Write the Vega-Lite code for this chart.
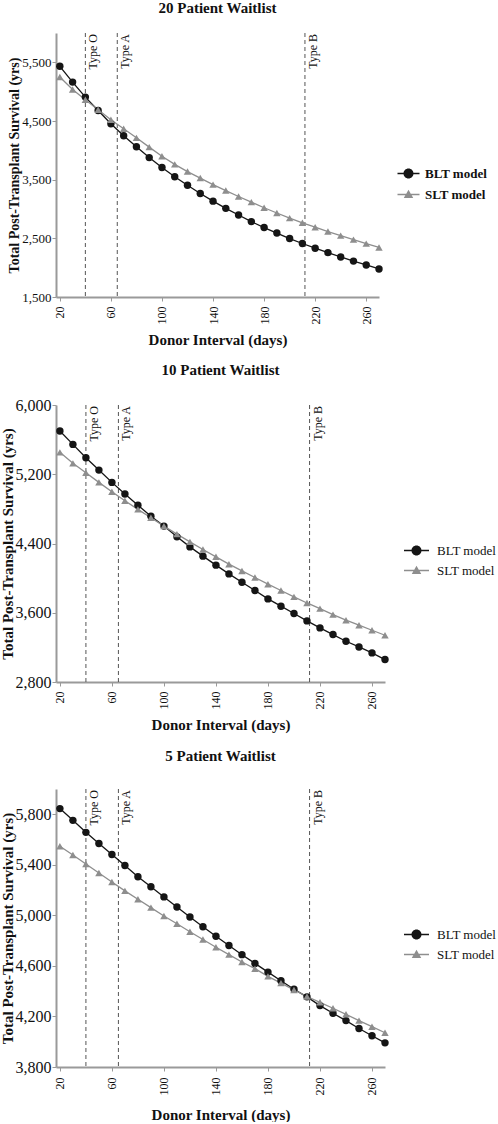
{
  "$schema": "https://vega.github.io/schema/vega-lite/v6.json",
  "padding": 0,
  "spacing": 16,
  "background": "white",
  "datasets": {
    "types": [
      {"day": 40, "label": "Type O"},
      {"day": 65, "label": "Type A"},
      {"day": 212, "label": "Type B"}
    ],
    "series": [
      {"waitlist": 20, "model": "BLT model", "day": 20, "survival": 5432},
      {"waitlist": 20, "model": "BLT model", "day": 30, "survival": 5163},
      {"waitlist": 20, "model": "BLT model", "day": 40, "survival": 4907},
      {"waitlist": 20, "model": "BLT model", "day": 50, "survival": 4680},
      {"waitlist": 20, "model": "BLT model", "day": 60, "survival": 4454},
      {"waitlist": 20, "model": "BLT model", "day": 70, "survival": 4248},
      {"waitlist": 20, "model": "BLT model", "day": 80, "survival": 4060},
      {"waitlist": 20, "model": "BLT model", "day": 90, "survival": 3876},
      {"waitlist": 20, "model": "BLT model", "day": 100, "survival": 3707},
      {"waitlist": 20, "model": "BLT model", "day": 110, "survival": 3550},
      {"waitlist": 20, "model": "BLT model", "day": 120, "survival": 3404},
      {"waitlist": 20, "model": "BLT model", "day": 130, "survival": 3264},
      {"waitlist": 20, "model": "BLT model", "day": 140, "survival": 3134},
      {"waitlist": 20, "model": "BLT model", "day": 150, "survival": 3011},
      {"waitlist": 20, "model": "BLT model", "day": 160, "survival": 2898},
      {"waitlist": 20, "model": "BLT model", "day": 170, "survival": 2785},
      {"waitlist": 20, "model": "BLT model", "day": 180, "survival": 2684},
      {"waitlist": 20, "model": "BLT model", "day": 190, "survival": 2590},
      {"waitlist": 20, "model": "BLT model", "day": 200, "survival": 2496},
      {"waitlist": 20, "model": "BLT model", "day": 210, "survival": 2412},
      {"waitlist": 20, "model": "BLT model", "day": 220, "survival": 2332},
      {"waitlist": 20, "model": "BLT model", "day": 230, "survival": 2256},
      {"waitlist": 20, "model": "BLT model", "day": 240, "survival": 2182},
      {"waitlist": 20, "model": "BLT model", "day": 250, "survival": 2112},
      {"waitlist": 20, "model": "BLT model", "day": 260, "survival": 2046},
      {"waitlist": 20, "model": "BLT model", "day": 270, "survival": 1978},
      {"waitlist": 20, "model": "SLT model", "day": 20, "survival": 5249},
      {"waitlist": 20, "model": "SLT model", "day": 30, "survival": 5038},
      {"waitlist": 20, "model": "SLT model", "day": 40, "survival": 4862},
      {"waitlist": 20, "model": "SLT model", "day": 50, "survival": 4692},
      {"waitlist": 20, "model": "SLT model", "day": 60, "survival": 4520},
      {"waitlist": 20, "model": "SLT model", "day": 70, "survival": 4367},
      {"waitlist": 20, "model": "SLT model", "day": 80, "survival": 4213},
      {"waitlist": 20, "model": "SLT model", "day": 90, "survival": 4055},
      {"waitlist": 20, "model": "SLT model", "day": 100, "survival": 3900},
      {"waitlist": 20, "model": "SLT model", "day": 110, "survival": 3760},
      {"waitlist": 20, "model": "SLT model", "day": 120, "survival": 3638},
      {"waitlist": 20, "model": "SLT model", "day": 130, "survival": 3527},
      {"waitlist": 20, "model": "SLT model", "day": 140, "survival": 3415},
      {"waitlist": 20, "model": "SLT model", "day": 150, "survival": 3314},
      {"waitlist": 20, "model": "SLT model", "day": 160, "survival": 3213},
      {"waitlist": 20, "model": "SLT model", "day": 170, "survival": 3117},
      {"waitlist": 20, "model": "SLT model", "day": 180, "survival": 3021},
      {"waitlist": 20, "model": "SLT model", "day": 190, "survival": 2932},
      {"waitlist": 20, "model": "SLT model", "day": 200, "survival": 2845},
      {"waitlist": 20, "model": "SLT model", "day": 210, "survival": 2765},
      {"waitlist": 20, "model": "SLT model", "day": 220, "survival": 2690},
      {"waitlist": 20, "model": "SLT model", "day": 230, "survival": 2616},
      {"waitlist": 20, "model": "SLT model", "day": 240, "survival": 2546},
      {"waitlist": 20, "model": "SLT model", "day": 250, "survival": 2478},
      {"waitlist": 20, "model": "SLT model", "day": 260, "survival": 2410},
      {"waitlist": 20, "model": "SLT model", "day": 270, "survival": 2345},
      {"waitlist": 10, "model": "BLT model", "day": 20, "survival": 5699},
      {"waitlist": 10, "model": "BLT model", "day": 30, "survival": 5545},
      {"waitlist": 10, "model": "BLT model", "day": 40, "survival": 5391},
      {"waitlist": 10, "model": "BLT model", "day": 50, "survival": 5248},
      {"waitlist": 10, "model": "BLT model", "day": 60, "survival": 5106},
      {"waitlist": 10, "model": "BLT model", "day": 70, "survival": 4971},
      {"waitlist": 10, "model": "BLT model", "day": 80, "survival": 4842},
      {"waitlist": 10, "model": "BLT model", "day": 90, "survival": 4716},
      {"waitlist": 10, "model": "BLT model", "day": 100, "survival": 4601},
      {"waitlist": 10, "model": "BLT model", "day": 110, "survival": 4477},
      {"waitlist": 10, "model": "BLT model", "day": 120, "survival": 4361},
      {"waitlist": 10, "model": "BLT model", "day": 130, "survival": 4254},
      {"waitlist": 10, "model": "BLT model", "day": 140, "survival": 4150},
      {"waitlist": 10, "model": "BLT model", "day": 150, "survival": 4049},
      {"waitlist": 10, "model": "BLT model", "day": 160, "survival": 3953},
      {"waitlist": 10, "model": "BLT model", "day": 170, "survival": 3857},
      {"waitlist": 10, "model": "BLT model", "day": 180, "survival": 3760},
      {"waitlist": 10, "model": "BLT model", "day": 190, "survival": 3676},
      {"waitlist": 10, "model": "BLT model", "day": 200, "survival": 3591},
      {"waitlist": 10, "model": "BLT model", "day": 210, "survival": 3506},
      {"waitlist": 10, "model": "BLT model", "day": 220, "survival": 3425},
      {"waitlist": 10, "model": "BLT model", "day": 230, "survival": 3348},
      {"waitlist": 10, "model": "BLT model", "day": 240, "survival": 3271},
      {"waitlist": 10, "model": "BLT model", "day": 250, "survival": 3205},
      {"waitlist": 10, "model": "BLT model", "day": 260, "survival": 3136},
      {"waitlist": 10, "model": "BLT model", "day": 270, "survival": 3059},
      {"waitlist": 10, "model": "SLT model", "day": 20, "survival": 5453},
      {"waitlist": 10, "model": "SLT model", "day": 30, "survival": 5326},
      {"waitlist": 10, "model": "SLT model", "day": 40, "survival": 5217},
      {"waitlist": 10, "model": "SLT model", "day": 50, "survival": 5106},
      {"waitlist": 10, "model": "SLT model", "day": 60, "survival": 4998},
      {"waitlist": 10, "model": "SLT model", "day": 70, "survival": 4893},
      {"waitlist": 10, "model": "SLT model", "day": 80, "survival": 4794},
      {"waitlist": 10, "model": "SLT model", "day": 90, "survival": 4697},
      {"waitlist": 10, "model": "SLT model", "day": 100, "survival": 4601},
      {"waitlist": 10, "model": "SLT model", "day": 110, "survival": 4508},
      {"waitlist": 10, "model": "SLT model", "day": 120, "survival": 4419},
      {"waitlist": 10, "model": "SLT model", "day": 130, "survival": 4331},
      {"waitlist": 10, "model": "SLT model", "day": 140, "survival": 4246},
      {"waitlist": 10, "model": "SLT model", "day": 150, "survival": 4161},
      {"waitlist": 10, "model": "SLT model", "day": 160, "survival": 4083},
      {"waitlist": 10, "model": "SLT model", "day": 170, "survival": 4007},
      {"waitlist": 10, "model": "SLT model", "day": 180, "survival": 3930},
      {"waitlist": 10, "model": "SLT model", "day": 190, "survival": 3857},
      {"waitlist": 10, "model": "SLT model", "day": 200, "survival": 3783},
      {"waitlist": 10, "model": "SLT model", "day": 210, "survival": 3713},
      {"waitlist": 10, "model": "SLT model", "day": 220, "survival": 3648},
      {"waitlist": 10, "model": "SLT model", "day": 230, "survival": 3578},
      {"waitlist": 10, "model": "SLT model", "day": 240, "survival": 3514},
      {"waitlist": 10, "model": "SLT model", "day": 250, "survival": 3456},
      {"waitlist": 10, "model": "SLT model", "day": 260, "survival": 3398},
      {"waitlist": 10, "model": "SLT model", "day": 270, "survival": 3340},
      {"waitlist": 5, "model": "BLT model", "day": 20, "survival": 5845},
      {"waitlist": 5, "model": "BLT model", "day": 30, "survival": 5752},
      {"waitlist": 5, "model": "BLT model", "day": 40, "survival": 5657},
      {"waitlist": 5, "model": "BLT model", "day": 50, "survival": 5569},
      {"waitlist": 5, "model": "BLT model", "day": 60, "survival": 5481},
      {"waitlist": 5, "model": "BLT model", "day": 70, "survival": 5394},
      {"waitlist": 5, "model": "BLT model", "day": 80, "survival": 5305},
      {"waitlist": 5, "model": "BLT model", "day": 90, "survival": 5226},
      {"waitlist": 5, "model": "BLT model", "day": 100, "survival": 5146},
      {"waitlist": 5, "model": "BLT model", "day": 110, "survival": 5066},
      {"waitlist": 5, "model": "BLT model", "day": 120, "survival": 4987},
      {"waitlist": 5, "model": "BLT model", "day": 130, "survival": 4910},
      {"waitlist": 5, "model": "BLT model", "day": 140, "survival": 4835},
      {"waitlist": 5, "model": "BLT model", "day": 150, "survival": 4761},
      {"waitlist": 5, "model": "BLT model", "day": 160, "survival": 4689},
      {"waitlist": 5, "model": "BLT model", "day": 170, "survival": 4620},
      {"waitlist": 5, "model": "BLT model", "day": 180, "survival": 4551},
      {"waitlist": 5, "model": "BLT model", "day": 190, "survival": 4482},
      {"waitlist": 5, "model": "BLT model", "day": 200, "survival": 4415},
      {"waitlist": 5, "model": "BLT model", "day": 210, "survival": 4355},
      {"waitlist": 5, "model": "BLT model", "day": 220, "survival": 4286},
      {"waitlist": 5, "model": "BLT model", "day": 230, "survival": 4225},
      {"waitlist": 5, "model": "BLT model", "day": 240, "survival": 4167},
      {"waitlist": 5, "model": "BLT model", "day": 250, "survival": 4105},
      {"waitlist": 5, "model": "BLT model", "day": 260, "survival": 4047},
      {"waitlist": 5, "model": "BLT model", "day": 270, "survival": 3991},
      {"waitlist": 5, "model": "SLT model", "day": 20, "survival": 5547},
      {"waitlist": 5, "model": "SLT model", "day": 30, "survival": 5478},
      {"waitlist": 5, "model": "SLT model", "day": 40, "survival": 5406},
      {"waitlist": 5, "model": "SLT model", "day": 50, "survival": 5335},
      {"waitlist": 5, "model": "SLT model", "day": 60, "survival": 5264},
      {"waitlist": 5, "model": "SLT model", "day": 70, "survival": 5194},
      {"waitlist": 5, "model": "SLT model", "day": 80, "survival": 5128},
      {"waitlist": 5, "model": "SLT model", "day": 90, "survival": 5061},
      {"waitlist": 5, "model": "SLT model", "day": 100, "survival": 4995},
      {"waitlist": 5, "model": "SLT model", "day": 110, "survival": 4934},
      {"waitlist": 5, "model": "SLT model", "day": 120, "survival": 4870},
      {"waitlist": 5, "model": "SLT model", "day": 130, "survival": 4809},
      {"waitlist": 5, "model": "SLT model", "day": 140, "survival": 4748},
      {"waitlist": 5, "model": "SLT model", "day": 150, "survival": 4689},
      {"waitlist": 5, "model": "SLT model", "day": 160, "survival": 4631},
      {"waitlist": 5, "model": "SLT model", "day": 170, "survival": 4578},
      {"waitlist": 5, "model": "SLT model", "day": 180, "survival": 4517},
      {"waitlist": 5, "model": "SLT model", "day": 190, "survival": 4464},
      {"waitlist": 5, "model": "SLT model", "day": 200, "survival": 4410},
      {"waitlist": 5, "model": "SLT model", "day": 210, "survival": 4358},
      {"waitlist": 5, "model": "SLT model", "day": 220, "survival": 4312},
      {"waitlist": 5, "model": "SLT model", "day": 230, "survival": 4265},
      {"waitlist": 5, "model": "SLT model", "day": 240, "survival": 4217},
      {"waitlist": 5, "model": "SLT model", "day": 250, "survival": 4167},
      {"waitlist": 5, "model": "SLT model", "day": 260, "survival": 4119},
      {"waitlist": 5, "model": "SLT model", "day": 270, "survival": 4071}
    ]
  },
  "resolve": {
    "scale": {"x": "independent", "y": "independent", "color": "independent", "shape": "independent"},
    "legend": {"color": "independent", "shape": "independent"}
  },
  "vconcat": [
    {
      "title": {"text": "20 Patient Waitlist", "offset": 17},
      "width": 323,
      "height": 264,
      "layer": [
        {
          "data": {"name": "types"},
          "mark": {"type": "rule", "strokeDash": [4, 3], "color": "#555", "strokeWidth": 1},
          "encoding": {"x": {"field": "day", "type": "quantitative", "scale": {"domain": [17, 270], "nice": false, "zero": false}}}
        },
        {
          "data": {"name": "types"},
          "mark": {"type": "text", "angle": 270, "align": "right", "baseline": "top", "dx": -1, "dy": 3, "fontSize": 12, "color": "#111"},
          "encoding": {
            "x": {"field": "day", "type": "quantitative", "scale": {"domain": [17, 270], "nice": false, "zero": false}},
            "y": {"datum": 6000, "type": "quantitative", "scale": {"domain": [1500, 6000], "nice": false, "zero": false}},
            "text": {"field": "label"}
          }
        },
        {
          "data": {"name": "series"},
          "transform": [{"filter": "datum.waitlist == 20"}],
          "mark": {"type": "line", "strokeWidth": 1.3},
          "encoding": {
            "x": {"field": "day", "type": "quantitative", "scale": {"domain": [17, 270], "nice": false, "zero": false},
              "axis": {"values": [20,30,40,50,60,70,80,90,100,110,120,130,140,150,160,170,180,190,200,210,220,230,240,250,260,270], "labelExpr": "datum.value % 20 == 0 ? datum.label : ''", "labelAngle": 270, "labelFontSize": 12, "labelPadding": 5, "labelFlush": false, "labelOverlap": {"expr": "false"}, "title": "Donor Interval (days)", "titleFontSize": 15, "titlePadding": 8}},
            "y": {"field": "survival", "type": "quantitative", "scale": {"domain": [1500, 6000], "nice": false, "zero": false},
              "axis": {"values": [1500,2000,2500,3000,3500,4000,4500,5000,5500,6000], "format": ",d", "labelExpr": "(datum.value - 1500) % 1000 == 0 ? datum.label : ''", "labelFontSize": 13, "labelPadding": 1, "labelOverlap": false, "title": "Total Post-Transplant Survival (yrs)", "titleFontSize": 14, "titlePadding": 0}},
            "color": {"field": "model", "type": "nominal", "scale": {"domain": ["BLT model", "SLT model"], "range": ["#151515", "#8e8e8e"]},
              "legend": {"title": null, "orient": "none", "legendX": 346, "legendY": 134, "padding": 0, "labelFontSize": 13, "labelFontWeight": "bold", "labelColor": "#111", "labelOffset": 10, "rowPadding": 7, "symbolSize": 100, "symbolOpacity": 1,
                "encode": {"symbols": {"update": {
                  "shape": {"signal": "datum.value == 'BLT model' ? 'M-2.2,-0.15H-0.9V0.15H-2.2Z M0.9,-0.15H2.2V0.15H0.9Z M-1,0A1,1 0 1,1 1,0A1,1 0 1,1 -1,0Z' : 'M-2.2,-0.15H-0.5V0.15H-2.2Z M0.5,-0.15H2.2V0.15H0.5Z M0,-0.95L0.95,0.7L-0.95,0.7Z'"},
                  "fill": {"signal": "datum.value == 'BLT model' ? '#151515' : '#8e8e8e'"},
                  "strokeWidth": {"value": 0},
                  "opacity": {"value": 1}
                }}}}}
          }
        },
        {
          "data": {"name": "series"},
          "transform": [{"filter": "datum.waitlist == 20"}],
          "mark": {"type": "point", "filled": true, "opacity": 1, "size": 55},
          "encoding": {
            "x": {"field": "day", "type": "quantitative"},
            "y": {"field": "survival", "type": "quantitative"},
            "shape": {"field": "model", "type": "nominal", "scale": {"domain": ["BLT model", "SLT model", "other"], "range": ["circle", "triangle-up", "square"]}, "legend": null},
            "color": {"field": "model", "type": "nominal", "scale": {"domain": ["BLT model", "SLT model"], "range": ["#151515", "#8e8e8e"]}}
          }
        }
      ]
    },
    {
      "title": {"text": "10 Patient Waitlist", "offset": 19},
      "width": 329,
      "height": 277,
      "layer": [
        {
          "data": {"name": "types"},
          "mark": {"type": "rule", "strokeDash": [4, 3], "color": "#555", "strokeWidth": 1},
          "encoding": {"x": {"field": "day", "type": "quantitative", "scale": {"domain": [17, 270], "nice": false, "zero": false}}}
        },
        {
          "data": {"name": "types"},
          "mark": {"type": "text", "angle": 270, "align": "right", "baseline": "top", "dx": -1, "dy": 3, "fontSize": 12, "color": "#111"},
          "encoding": {
            "x": {"field": "day", "type": "quantitative", "scale": {"domain": [17, 270], "nice": false, "zero": false}},
            "y": {"datum": 6000, "type": "quantitative", "scale": {"domain": [2800, 6000], "nice": false, "zero": false}},
            "text": {"field": "label"}
          }
        },
        {
          "data": {"name": "series"},
          "transform": [{"filter": "datum.waitlist == 10"}],
          "mark": {"type": "line", "strokeWidth": 1.3},
          "encoding": {
            "x": {"field": "day", "type": "quantitative", "scale": {"domain": [17, 270], "nice": false, "zero": false},
              "axis": {"values": [20,30,40,50,60,70,80,90,100,110,120,130,140,150,160,170,180,190,200,210,220,230,240,250,260,270], "labelExpr": "datum.value % 20 == 0 ? datum.label : ''", "labelAngle": 270, "labelFontSize": 12, "labelPadding": 5, "labelFlush": false, "labelOverlap": {"expr": "false"}, "title": "Donor Interval (days)", "titleFontSize": 15, "titlePadding": 8}},
            "y": {"field": "survival", "type": "quantitative", "scale": {"domain": [2800, 6000], "nice": false, "zero": false},
              "axis": {"values": [2800,3200,3600,4000,4400,4800,5200,5600,6000], "format": ",d", "labelExpr": "(datum.value - 2800) % 800 == 0 ? datum.label : ''", "labelFontSize": 16, "labelPadding": 1, "labelOverlap": false, "title": "Total Post-Transplant Survival (yrs)", "titleFontSize": 15, "titlePadding": 0}},
            "color": {"field": "model", "type": "nominal", "scale": {"domain": ["BLT model", "SLT model"], "range": ["#151515", "#8e8e8e"]},
              "legend": {"title": null, "orient": "none", "legendX": 354, "legendY": 139, "padding": 0, "labelFontSize": 13, "labelColor": "#111", "labelOffset": 14, "rowPadding": 6, "symbolSize": 100, "symbolOpacity": 1,
                "encode": {"symbols": {"update": {
                  "shape": {"signal": "datum.value == 'BLT model' ? 'M-2.5,-0.15H-0.9V0.15H-2.5Z M0.9,-0.15H2.5V0.15H0.9Z M-1,0A1,1 0 1,1 1,0A1,1 0 1,1 -1,0Z' : 'M-2.5,-0.15H-0.5V0.15H-2.5Z M0.5,-0.15H2.5V0.15H0.5Z M0,-0.95L0.95,0.7L-0.95,0.7Z'"},
                  "fill": {"signal": "datum.value == 'BLT model' ? '#151515' : '#8e8e8e'"},
                  "strokeWidth": {"value": 0},
                  "opacity": {"value": 1}
                }}}}}
          }
        },
        {
          "data": {"name": "series"},
          "transform": [{"filter": "datum.waitlist == 10"}],
          "mark": {"type": "point", "filled": true, "opacity": 1, "size": 55},
          "encoding": {
            "x": {"field": "day", "type": "quantitative"},
            "y": {"field": "survival", "type": "quantitative"},
            "shape": {"field": "model", "type": "nominal", "scale": {"domain": ["BLT model", "SLT model", "other"], "range": ["circle", "triangle-up", "square"]}, "legend": null},
            "color": {"field": "model", "type": "nominal", "scale": {"domain": ["BLT model", "SLT model"], "range": ["#151515", "#8e8e8e"]}}
          }
        }
      ]
    },
    {
      "title": {"text": "5 Patient Waitlist", "offset": 25},
      "width": 329,
      "height": 278,
      "layer": [
        {
          "data": {"name": "types"},
          "mark": {"type": "rule", "strokeDash": [4, 3], "color": "#555", "strokeWidth": 1},
          "encoding": {"x": {"field": "day", "type": "quantitative", "scale": {"domain": [17, 270], "nice": false, "zero": false}}}
        },
        {
          "data": {"name": "types"},
          "mark": {"type": "text", "angle": 270, "align": "right", "baseline": "top", "dx": -1, "dy": 3, "fontSize": 12, "color": "#111"},
          "encoding": {
            "x": {"field": "day", "type": "quantitative", "scale": {"domain": [17, 270], "nice": false, "zero": false}},
            "y": {"datum": 6000, "type": "quantitative", "scale": {"domain": [3800, 6000], "nice": false, "zero": false}},
            "text": {"field": "label"}
          }
        },
        {
          "data": {"name": "series"},
          "transform": [{"filter": "datum.waitlist == 5"}],
          "mark": {"type": "line", "strokeWidth": 1.3},
          "encoding": {
            "x": {"field": "day", "type": "quantitative", "scale": {"domain": [17, 270], "nice": false, "zero": false},
              "axis": {"values": [20,30,40,50,60,70,80,90,100,110,120,130,140,150,160,170,180,190,200,210,220,230,240,250,260,270], "labelExpr": "datum.value % 20 == 0 ? datum.label : ''", "labelAngle": 270, "labelFontSize": 12, "labelPadding": 6, "labelFlush": false, "labelOverlap": {"expr": "false"}, "title": "Donor Interval (days)", "titleFontSize": 15, "titlePadding": 12}},
            "y": {"field": "survival", "type": "quantitative", "scale": {"domain": [3800, 6000], "nice": false, "zero": false},
              "axis": {"values": [3800,4000,4200,4400,4600,4800,5000,5200,5400,5600,5800,6000], "format": ",d", "labelExpr": "(datum.value - 3800) % 400 == 0 ? datum.label : ''", "labelFontSize": 16, "labelPadding": 1, "labelOverlap": false, "title": "Total Post-Transplant Survival (yrs)", "titleFontSize": 15, "titlePadding": 0}},
            "color": {"field": "model", "type": "nominal", "scale": {"domain": ["BLT model", "SLT model"], "range": ["#151515", "#8e8e8e"]},
              "legend": {"title": null, "orient": "none", "legendX": 354, "legendY": 139, "padding": 0, "labelFontSize": 13, "labelColor": "#111", "labelOffset": 14, "rowPadding": 6, "symbolSize": 100, "symbolOpacity": 1,
                "encode": {"symbols": {"update": {
                  "shape": {"signal": "datum.value == 'BLT model' ? 'M-2.5,-0.15H-0.9V0.15H-2.5Z M0.9,-0.15H2.5V0.15H0.9Z M-1,0A1,1 0 1,1 1,0A1,1 0 1,1 -1,0Z' : 'M-2.5,-0.15H-0.5V0.15H-2.5Z M0.5,-0.15H2.5V0.15H0.5Z M0,-0.95L0.95,0.7L-0.95,0.7Z'"},
                  "fill": {"signal": "datum.value == 'BLT model' ? '#151515' : '#8e8e8e'"},
                  "strokeWidth": {"value": 0},
                  "opacity": {"value": 1}
                }}}}}
          }
        },
        {
          "data": {"name": "series"},
          "transform": [{"filter": "datum.waitlist == 5"}],
          "mark": {"type": "point", "filled": true, "opacity": 1, "size": 55},
          "encoding": {
            "x": {"field": "day", "type": "quantitative"},
            "y": {"field": "survival", "type": "quantitative"},
            "shape": {"field": "model", "type": "nominal", "scale": {"domain": ["BLT model", "SLT model", "other"], "range": ["circle", "triangle-up", "square"]}, "legend": null},
            "color": {"field": "model", "type": "nominal", "scale": {"domain": ["BLT model", "SLT model"], "range": ["#151515", "#8e8e8e"]}}
          }
        }
      ]
    }
  ],
  "config": {
    "font": "Liberation Serif",
    "view": {"stroke": null},
    "axis": {"grid": false, "domainColor": "#9a9a9a", "domainWidth": 2, "tickColor": "#9a9a9a", "tickSize": 4, "tickWidth": 1, "labelColor": "#111", "titleColor": "#111", "labelFont": "Liberation Serif", "titleFont": "Liberation Serif", "titleFontWeight": "bold", "labelBound": false},
    "title": {"font": "Liberation Serif", "fontSize": 15, "fontWeight": "bold", "color": "#111"},
    "legend": {"labelFont": "Liberation Serif"}
  }
}
